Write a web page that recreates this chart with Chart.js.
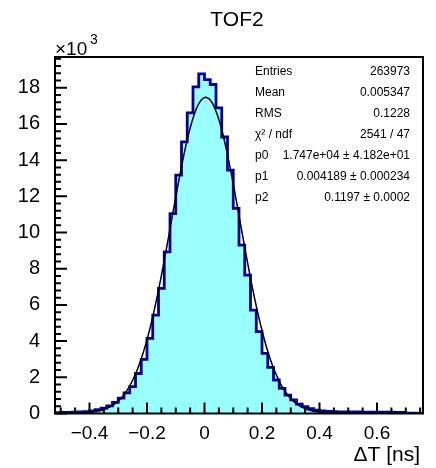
<!DOCTYPE html>
<html>
<head>
<meta charset="utf-8">
<title>TOF2</title>
<script src="https://cdn.jsdelivr.net/npm/chart.js@4.4.1/dist/chart.umd.min.js"></script>
<style>
    html, body { margin: 0; padding: 0; background: #fff; }
    #wrap { width: 436px; height: 468px; position: relative; }
</style>
</head>
<body>
<div id="wrap"><canvas id="tof2"></canvas></div>
<script>
// Histogram: 64 bins of 0.02 ns from -0.52 to 0.76
const binLow = -0.52;
const binWidth = 0.02;
const counts = [
    50, 60, 65, 75, 85, 105, 150, 210, 300, 420,
    610, 850, 1140, 1490, 2210, 2990, 4150, 5440, 6910, 8930,
    11050, 13170, 15010, 16610, 18050, 18770, 18450, 18180, 16890, 15280,
    13450, 11330, 9300, 7650, 5710, 4520, 3320, 2550, 1850, 1390,
    1020, 750, 520, 380, 270, 190, 140, 115, 100, 95,
    90, 85, 85, 80, 80, 75, 75, 70, 70, 65,
    65, 20, 15, 10,
];

// Gaussian fit, parameters as printed in the stats box
const fitP0 = 1.747e4;
const fitP1 = 0.004189;
const fitP2 = 0.1197;
const fitRange = [-0.5, 0.5];

// Axis ticks
const xTickValues = [-0.4, -0.2, 0, 0.2, 0.4, 0.6];
const yTickValues = [0, 2000, 4000, 6000, 8000, 10000, 12000, 14000, 16000, 18000];

// Stats box rows
const statLabels = ["Entries", "Mean", "RMS", "\u03c7\u00b2 / ndf", "p0", "p1", "p2"];
const statValues = [
    "263973",
    "0.005347",
    "0.1228",
    "2541 / 47",
    "1.747e+04 \u00b1 4.182e+01",
    "0.004189 \u00b1 0.000234",
    "0.1197 \u00b1 0.0002",
];

const FONT = '"Liberation Sans", Arial, Helvetica, sans-serif';

// step points: each bin's value starts at its low edge
const histPoints = counts.map((c, i) => ({ x: binLow + i * binWidth, y: c }));
histPoints.push({ x: binLow + counts.length * binWidth, y: counts[counts.length - 1] });

const fitPoints = [];
for (let i = 0; i <= 250; i++) {
    const x = fitRange[0] + ((fitRange[1] - fitRange[0]) * i) / 250;
    const d = (x - fitP1) / fitP2;
    fitPoints.push({ x: x, y: fitP0 * Math.exp(-0.5 * d * d) });
}

const fmtX = (v) => {
    if (Math.abs(v) < 1e-9) return "0";
    return (v < 0 ? "\u2212" : "") + Math.abs(v).toFixed(1);
};

// ROOT-like frame: inward ticks + box + texts
const rootFrame = {
    id: "rootFrame",
    afterDraw(chart) {
        const { ctx, chartArea: a, scales } = chart;
        const x = scales.x;
        const y = scales.y;
        ctx.save();
        ctx.strokeStyle = "#000";
        ctx.lineWidth = 2;
        ctx.beginPath();
        // x ticks every 0.05, long ones on labels
        for (let k = -10; k <= 15; k++) {
            const v = k * 0.05;
            const px = x.getPixelForValue(v);
            const len = k % 4 === 0 ? 11 : 6;
            ctx.moveTo(px, a.bottom);
            ctx.lineTo(px, a.bottom - len);
        }
        // y ticks every 400, long ones every 2000
        for (let k = 0; k <= 49; k++) {
            const v = k * 400;
            if (v > y.max) break;
            const py = y.getPixelForValue(v);
            const len = k % 5 === 0 ? 12 : 6;
            ctx.moveTo(a.left, py);
            ctx.lineTo(a.left + len, py);
        }
        ctx.stroke();
        ctx.strokeRect(a.left, a.top, a.right - a.left, a.bottom - a.top);

        ctx.fillStyle = "#000";
        // title
        ctx.font = "21px " + FONT;
        ctx.textAlign = "center";
        ctx.textBaseline = "alphabetic";
        ctx.fillText("TOF2", 237, 26);

        // exponent
        ctx.textAlign = "left";
        ctx.font = "19px " + FONT;
        ctx.fillText("\u00d710", 55, 55);
        ctx.font = "14px " + FONT;
        ctx.fillText("3", 90, 43.5);

        // x axis title
        ctx.textAlign = "right";
        ctx.font = "21px " + FONT;
        ctx.fillText("\u0394T [ns]", 420, 461);

        // stats
        ctx.font = "12px " + FONT;
        ctx.textBaseline = "middle";
        statLabels.forEach((s, i) => {
            const ry = 72 + 20.9 * i;
            ctx.textAlign = "left";
            ctx.fillText(s, 255, ry);
            ctx.textAlign = "right";
            ctx.fillText(statValues[i], 410, ry);
        });
        ctx.restore();
    },
};

new Chart(document.getElementById("tof2"), {
    type: "line",
    data: {
        datasets: [
            {
                label: "gaus fit",
                data: fitPoints,
                borderColor: "#000000",
                borderWidth: 1.5,
                pointRadius: 0,
                fill: false,
                tension: 0,
                order: 0,
            },
            {
                label: "TOF2",
                data: histPoints,
                stepped: "before",
                borderColor: "#000099",
                borderWidth: 2.8,
                backgroundColor: "#99ffff",
                fill: "origin",
                pointRadius: 0,
                order: 1,
            },
        ],
    },
    options: {
        responsive: true,
        maintainAspectRatio: false,
        animation: false,
        events: [],
        layout: { padding: { top: 57, right: 13, left: 0, bottom: 0 } },
        plugins: {
            legend: { display: false },
            tooltip: { enabled: false },
            title: { display: false },
        },
        scales: {
            x: {
                type: "linear",
                min: binLow,
                max: binLow + counts.length * binWidth,
                grid: { display: false },
                border: { display: false },
                afterBuildTicks: (s) => {
                    s.ticks = xTickValues.map((v) => ({ value: v }));
                },
                afterFit: (s) => {
                    s.height = 54.5;
                },
                ticks: {
                    autoSkip: false,
                    maxRotation: 0,
                    padding: 1,
                    color: "#000",
                    font: { family: FONT, size: 19 },
                    callback: (v) => fmtX(v),
                },
            },
            y: {
                type: "linear",
                min: 0,
                max: 19700,
                grid: { display: false },
                border: { display: false },
                afterBuildTicks: (s) => {
                    s.ticks = yTickValues.map((v) => ({ value: v }));
                },
                afterFit: (s) => {
                    s.width = 55;
                },
                ticks: {
                    autoSkip: false,
                    padding: 7,
                    color: "#000",
                    font: { family: FONT, size: 20 },
                    callback: (v) => String(v / 1000),
                },
            },
        },
    },
    plugins: [rootFrame],
});
</script>
</body>
</html>
